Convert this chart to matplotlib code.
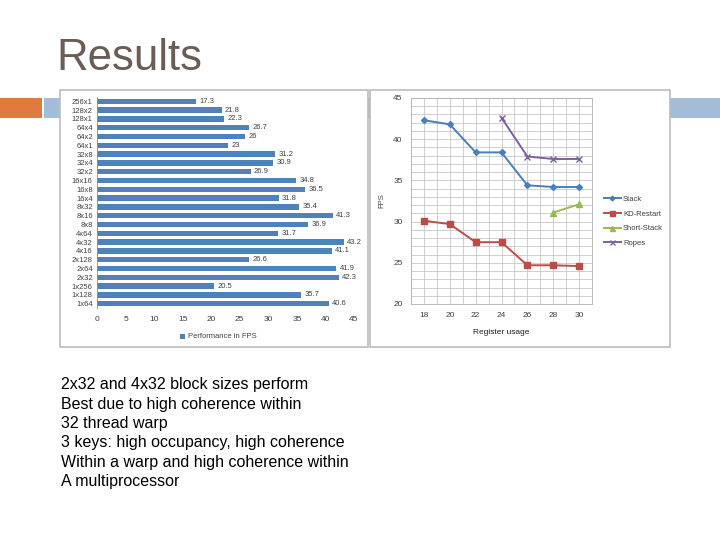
import matplotlib.pyplot as plt
from matplotlib.patches import Rectangle
import numpy as np

plt.rcParams['font.family'] = ['Liberation Sans', 'DejaVu Sans']

# bar chart data
configs = ["256x1", "128x2", "128x1", "64x4", "64x2", "64x1", "32x8", "32x4", "32x2",
           "16x16", "16x8", "16x4", "8x32", "8x16", "8x8", "4x64", "4x32", "4x16",
           "2x128", "2x64", "2x32", "1x256", "1x128", "1x64"]
fps = [17.3, 21.8, 22.3, 26.7, 26, 23, 31.2, 30.9, 26.9,
       34.8, 36.5, 31.8, 35.4, 41.3, 36.9, 31.7, 43.2, 41.1,
       26.6, 41.9, 42.3, 20.5, 35.7, 40.6]

# line chart data
registers = [18, 20, 22, 24, 26, 28, 30]
stack = [42.3, 41.8, 38.4, 38.4, 34.4, 34.2, 34.2]
kd_restart = [30.1, 29.7, 27.5, 27.5, 24.7, 24.7, 24.6]
short_stack = [None, None, None, None, None, 31.1, 32.1]
ropes = [None, None, None, 42.6, 37.9, 37.6, 37.6]

bullets = ["2x32 and 4x32 block sizes perform",
           "Best due to high coherence within",
           "32 thread warp",
           "3 keys: high occupancy, high coherence",
           "Within a warp and high coherence within",
           "A multiprocessor"]

W, H = 720, 540
fig = plt.figure(figsize=(7.2, 5.4), dpi=100)
fig.patch.set_facecolor("white")

def fx(px):
    return px / W

def fy(py):
    return 1 - py / H

def box(x0, y0, x1, y1):
    return [fx(x0), fy(y1), fx(x1) - fx(x0), fy(y0) - fy(y1)]

# slide decoration
fig.text(fx(56), fy(58), "Results", fontsize=31.5, color="#6b5d55", va="center", ha="left")
fig.patches.append(Rectangle((0, fy(118)), fx(42), fy(98) - fy(118), transform=fig.transFigure,
                             facecolor="#e07b3f", edgecolor="none", zorder=0))
fig.patches.append(Rectangle((fx(44), fy(118)), 1 - fx(44), fy(98) - fy(118), transform=fig.transFigure,
                             facecolor="#a3bcd8", edgecolor="none", zorder=0))
for (a, b, c, d) in [(60, 90, 368, 347), (370, 90, 670, 347)]:
    fig.patches.append(Rectangle((fx(a), fy(d)), fx(c) - fx(a), fy(b) - fy(d), transform=fig.transFigure,
                                 facecolor="white", edgecolor="#bcbcbc", lw=1.2, zorder=1))

# bar chart
ax1 = fig.add_axes(box(97, 97, 354, 308))
ax1.set_zorder(2)
y = np.arange(len(configs))
ax1.barh(y, fps, height=0.62, color="#4f81bd")
for yi, v in zip(y, fps):
    ax1.text(v + 0.6, yi, f"{v:g}", fontsize=5.5, va="center", color="#404040")
ax1.set_ylim(len(configs) - 0.5, -0.5)
ax1.set_yticks(y)
ax1.set_yticklabels(configs, fontsize=5.5, color="#404040")
ax1.set_xlim(0, 45)
ax1.set_xticks(range(0, 46, 5))
ax1.tick_params(axis="x", labelsize=6, length=0, colors="#404040", pad=6)
ax1.tick_params(axis="y", length=0, pad=3)
for s in ["top", "right", "bottom"]:
    ax1.spines[s].set_visible(False)
ax1.spines["left"].set_color("#8c8c8c")
ax1.spines["left"].set_linewidth(0.6)
ax1.set_facecolor("none")
fig.patches.append(Rectangle((fx(180), fy(339)), fx(5), fy(334) - fy(339), transform=fig.transFigure,
                             facecolor="#4f81bd", edgecolor="none", zorder=3))
fig.text(fx(188), fy(336.5), "Performance in FPS", fontsize=5.5, color="#404040", va="center", zorder=3)

# line chart
ax2 = fig.add_axes(box(411, 98, 592, 304))
ax2.set_zorder(2)
x = np.arange(len(registers))
series = [("Stack", stack, "#4a7ebb", "D", 3),
          ("KD-Restart", kd_restart, "#be4b48", "s", 4.5),
          ("Short-Stack", short_stack, "#98b954", "^", 4.5),
          ("Ropes", ropes, "#7d60a0", "x", 4.5)]
for name, vals, col, mk, ms in series:
    v = np.array([np.nan if q is None else q for q in vals], dtype=float)
    ax2.plot(x, v, color=col, marker=mk, markersize=ms, lw=1.4, label=name, zorder=3)
ax2.set_xlim(-0.5, len(registers) - 0.5)
ax2.set_ylim(20, 45)
ax2.set_xticks(x)
ax2.set_xticklabels([str(r) for r in registers])
ax2.set_yticks(range(20, 46, 5))
ax2.set_yticks(range(20, 46, 1), minor=True)
for gx in np.arange(-0.5, len(registers), 0.5):
    ax2.axvline(gx, color="#c8c8c8", lw=0.6, zorder=1)
ax2.grid(axis="y", which="both", color="#c8c8c8", lw=0.6, zorder=1)
ax2.tick_params(axis="both", which="both", length=0, labelsize=6, colors="#404040", pad=6)
for s in ax2.spines.values():
    s.set_color("#b0b0b0")
    s.set_linewidth(0.6)
ax2.set_ylabel("FPS", fontsize=5.5, color="#404040", labelpad=6)
ax2.set_xlabel("Register usage", fontsize=6, color="#202020", labelpad=7)
leg = ax2.legend(loc="upper left", bbox_to_anchor=(fx(600), fy(192)), bbox_transform=fig.transFigure,
                 frameon=False, fontsize=5.5, handlelength=2.2, labelspacing=0.95, borderpad=0,
                 handletextpad=0.3, markerscale=0.8, labelcolor="#404040")

# body text
for i, line in enumerate(bullets):
    fig.text(fx(61), fy(385 + i * 19.3), line, fontsize=11.5, color="black", va="center", ha="left")

fig.savefig("out.png", dpi=100)
